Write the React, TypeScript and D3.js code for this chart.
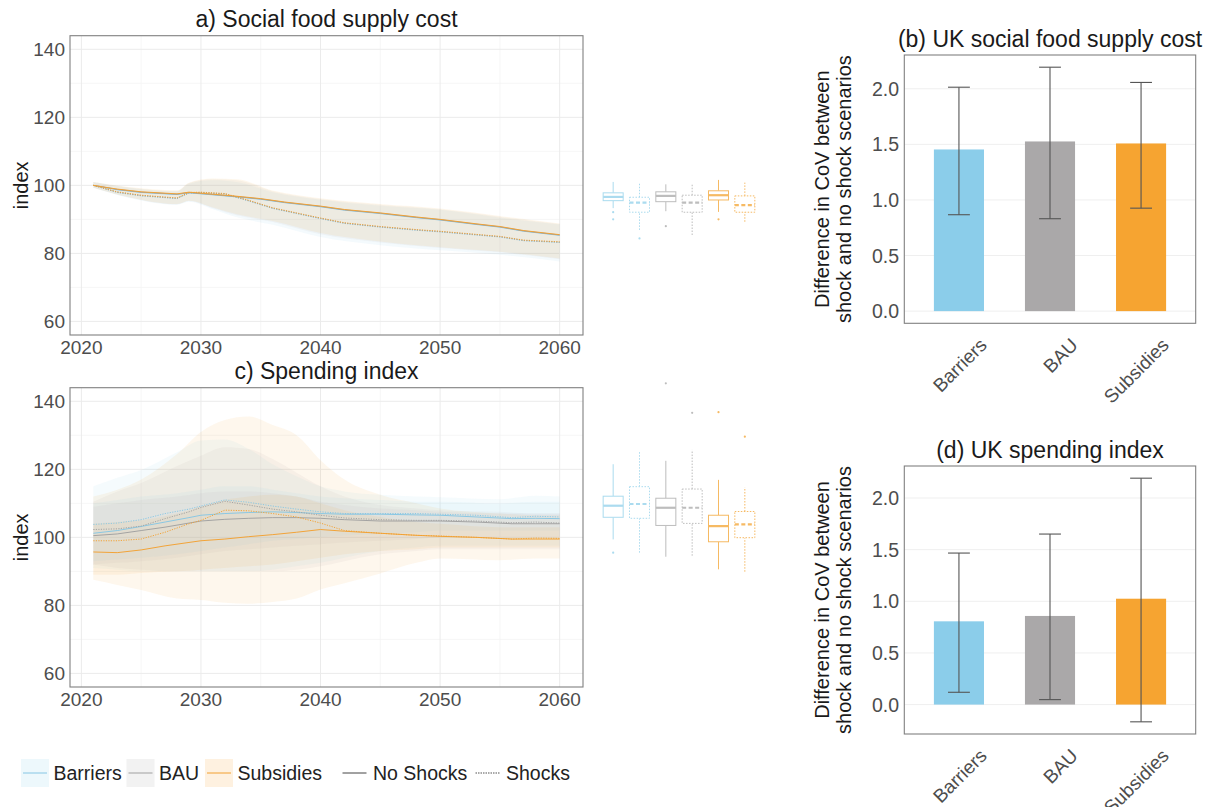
import React from "react";
import * as d3 from "d3";

const FONT = "'Liberation Sans', Arial, Helvetica, sans-serif";

// ---------- shared categories ----------
const scenarios = ["Barriers", "BAU", "Subsidies"];
const lineColors = ["#86c6e4", "#a0a0a0", "#f2a030"];
const ribbonColors = ["#89cdea", "#aaa8a9", "#f6a431"];
const barColors = ["#8bcdea", "#aaa8a9", "#f6a431"];
const boxColors = ["#8fd0ea", "#a8a8a8", "#f3a330"];

// ---------- panel a: Social food supply cost ----------
const aNoShockYears = [2021, 2023, 2025, 2028, 2029, 2031, 2033, 2035, 2037, 2040, 2042, 2045, 2048, 2050, 2053, 2055, 2057, 2060];
const aBarriersNoShock = [100, 98.7, 97.9, 97.3, 97.8, 97.2, 96.6, 95.9, 94.9, 93.7, 92.7, 91.7, 90.5, 89.8, 88.5, 87.7, 86.5, 85.3];
const aBAUNoShock = [100, 98.8, 98.0, 97.4, 97.9, 97.3, 96.7, 96.0, 95.0, 93.8, 92.8, 91.8, 90.6, 89.9, 88.6, 87.8, 86.6, 85.4];
const aSubsidiesNoShock = [100, 98.9, 98.1, 97.5, 98.0, 97.4, 96.8, 96.1, 95.1, 93.9, 92.9, 91.9, 90.7, 90.0, 88.7, 87.9, 86.7, 85.5];

const aShockYears = [2021, 2023, 2025, 2028, 2029, 2030, 2032, 2034, 2036, 2038, 2040, 2042, 2045, 2048, 2050, 2053, 2055, 2057, 2060];
const aBarriersShock = [100, 97.9, 96.9, 96.1, 97.7, 97.8, 97.4, 95.4, 93.2, 91.7, 90.2, 88.8, 87.7, 86.8, 86.3, 85.4, 84.8, 83.7, 83.2];
const aBAUShock = [100, 98.0, 97.0, 96.2, 97.8, 97.9, 97.5, 95.5, 93.3, 91.8, 90.3, 88.9, 87.8, 86.9, 86.4, 85.5, 84.9, 83.8, 83.3];
const aSubsidiesShock = [100, 98.1, 97.1, 96.3, 97.9, 98.0, 97.6, 95.6, 93.4, 91.9, 90.4, 89.0, 87.9, 87.0, 86.5, 85.6, 85.0, 83.9, 83.4];

const aRibbonYears = [2021, 2024, 2028, 2029, 2031, 2033, 2036, 2040, 2045, 2050, 2055, 2060];
const aBarriersHi = [101, 99.3, 98.2, 100.5, 101.5, 101, 98, 95.8, 94, 92.8, 90.5, 88.5];
const aBarriersLo = [99.3, 96.3, 94.3, 95.2, 93, 90.6, 88.4, 84.8, 82.4, 80.9, 79.6, 77.6];
const aBAUHi = [101, 99.4, 98.4, 100.7, 101.8, 101.5, 98.3, 96, 94.3, 93, 90.8, 88.6];
const aBAULo = [99.3, 96.4, 94.4, 95.4, 93.3, 91.2, 89.2, 85.6, 83.2, 81.6, 80.3, 78.3];
const aSubsidiesHi = [101, 99.5, 98.5, 100.8, 102, 101.8, 98.5, 96.2, 94.5, 93.2, 91, 88.8];
const aSubsidiesLo = [99.3, 96.5, 94.5, 95.5, 93.5, 91.5, 89.5, 86, 83.5, 81.8, 80.5, 78.5];

// boxplots a: [lowWhisker, q1, median, q3, highWhisker]
const aBoxBarriersNo = [93.3, 95.5, 96.6, 97.8, 101.0];
const aBoxBarriersSh = [86.9, 92.1, 94.9, 96.5, 100.9];
const aBoxBAUNo = [92.4, 95.2, 96.9, 98.1, 100.3];
const aBoxBAUSh = [85.4, 92.1, 94.9, 97.1, 100.6];
const aBoxSubsidiesNo = [92.2, 95.7, 97.1, 98.4, 101.6];
const aBoxSubsidiesSh = [89.3, 92.1, 94.2, 96.9, 100.8];
const aOutBarriersNo = [92.1, 90.0];
const aOutBarriersSh = [84.4];
const aOutBAUNo = [88.0];
const aOutBAUSh: number[] = [];
const aOutSubsidiesNo = [90.0];
const aOutSubsidiesSh: number[] = [];

// ---------- panel c: Spending index ----------
const cLineYears = [2021, 2023, 2025, 2027, 2029, 2030, 2032, 2034, 2036, 2038, 2040, 2042, 2045, 2048, 2050, 2053, 2056, 2058, 2060];
const cBarriersShock = [103.8, 104.2, 105.2, 107, 108.3, 109.2, 111, 110.3, 109.2, 108.3, 107.5, 107, 107, 107, 106.8, 106.5, 105.8, 106.2, 106];
const cBAUShock = [102.3, 102.5, 103.3, 105.5, 107.5, 108.8, 110.6, 109.5, 108.3, 107.5, 106.5, 105.7, 105.2, 105, 105, 104.8, 104.3, 104.5, 104.2];
const cBarriersNoShock = [101.2, 102, 103.2, 104.5, 105.8, 106.5, 107, 107.3, 107.5, 107.3, 107, 106.8, 106.8, 106.6, 106.5, 106, 105.5, 105.6, 105.5];
const cBAUNoShock = [100.5, 101, 102, 103, 104.2, 104.8, 105.3, 105.6, 105.8, 105.8, 105.6, 105.2, 104.8, 104.8, 104.8, 104.5, 104, 104, 104];
const cSubsidiesShock = [99, 99, 99.5, 101.5, 104, 105, 108, 107.8, 107, 106, 104.2, 102, 101.2, 100.6, 100.4, 100, 99.5, 99.8, 99.7];
const cSubsidiesNoShock = [95.7, 95.5, 96.3, 97.5, 98.5, 99, 99.5, 100.2, 100.8, 101.5, 102.3, 101.8, 101.2, 100.6, 100.3, 100, 99.5, 99.5, 99.5];

const cRibbonYears = [2021, 2023, 2025, 2028, 2030, 2032, 2034, 2036, 2038, 2040, 2042, 2045, 2048, 2050, 2055, 2058, 2060];
const cBarriersShockHi = [115, 117.5, 119.8, 125, 128.5, 128.8, 126, 121.5, 118, 115, 113.5, 112.5, 112, 111.8, 111.2, 112.2, 112];
const cBarriersShockLo = [91, 90.5, 90, 90, 90, 90, 90, 90.5, 91.5, 92.5, 94, 96, 97, 97.5, 97.5, 97.5, 97.5];
const cBAUShockHi = [110.5, 113.5, 116, 121, 124, 126.5, 126, 123, 119, 115, 112, 109.5, 108.5, 108, 107.5, 107, 107];
const cBAUShockLo = [92, 91, 90.5, 90, 90, 90, 90, 90, 90.5, 91.5, 93, 95, 96, 96.5, 96.5, 96.5, 96.5];
const cSubsidiesShockHi = [112, 114, 117, 124.5, 131, 134.5, 135.5, 133, 130, 122.7, 117, 112.5, 110, 108.5, 107, 106.5, 106.5];
const cSubsidiesShockLo = [87.5, 86, 84.5, 82, 81.6, 80.8, 80.5, 81, 82, 84.7, 86.5, 89.4, 92.5, 93.8, 93.3, 93.8, 93.8];
const cBarriersNoShockHi = [110, 111, 112, 113, 114, 115, 115, 114, 113, 112, 111.5, 111, 110.5, 110.5, 110, 110.5, 110.5];
const cBarriersNoShockLo = [93, 93.5, 94, 95, 96, 97, 98, 99, 99.5, 100, 100.5, 101, 101.5, 102, 102, 102, 102];
const cBAUNoShockHi = [109, 110, 111, 112, 113, 113.5, 113.5, 113, 112, 110.5, 109.5, 108.5, 108, 107.5, 107, 107, 107];
const cBAUNoShockLo = [92, 92.5, 93, 94, 95, 96, 96.5, 97, 97.5, 98, 98.5, 99, 99.5, 100, 100, 100, 100];
const cSubsidiesNoShockHi = [104, 104.5, 105, 107, 109, 111, 112, 112.5, 112, 110, 108, 106, 104.5, 104, 103, 103, 103];
const cSubsidiesNoShockLo = [89, 89, 89.5, 90, 90.5, 91, 91.5, 92, 93, 94, 95, 96, 96.5, 97, 97, 97, 97];

const cBoxBarriersNo = [99.4, 105.9, 109.3, 112.1, 121.5];
const cBoxBarriersSh = [95.5, 105.6, 109.8, 114.9, 125.2];
const cBoxBAUNo = [94.3, 103.5, 108.7, 111.5, 122.5];
const cBoxBAUSh = [94.6, 104.1, 108.7, 114.2, 125.7];
const cBoxSubsidiesNo = [90.6, 98.7, 103.3, 106.5, 116.9];
const cBoxSubsidiesSh = [89.9, 99.9, 103.8, 107.6, 114.7];
const cOutBarriersNo = [95.5];
const cOutBarriersSh: number[] = [];
const cOutBAUNo = [145.3];
const cOutBAUSh = [136.6];
const cOutSubsidiesNo = [136.8];
const cOutSubsidiesSh = [129.6];

// ---------- bar panels ----------
const bValues = [1.454, 1.526, 1.508];
const bLow = [0.867, 0.831, 0.926];
const bHigh = [2.014, 2.194, 2.057];
const dValues = [0.806, 0.858, 1.025];
const dLow = [0.119, 0.048, -0.167];
const dHigh = [1.467, 1.651, 2.192];

const yearTicks = [2020, 2030, 2040, 2050, 2060];
const indexTicks = [60, 80, 100, 120, 140];
const cotTicks = [0, 0.5, 1.0, 1.5, 2.0];

// ---------- helpers ----------
type Series = { years: number[]; values: number[]; scen: number; shock: boolean };
type Ribbon = { years: number[]; lo: number[]; hi: number[]; scen: number };
type Box = { stats: number[]; out: number[]; scen: number; shock: boolean };

const PLOT_L = 70, PLOT_R = 583, PLOT_H = 299.3;

function LinePanel({ top, title, ribbons, series, boxes, ribbonAlpha }: {
  top: number; title: string; ribbons: Ribbon[]; series: Series[]; boxes: Box[]; ribbonAlpha: number;
}) {
  const bottom = top + PLOT_H;
  const x = d3.scaleLinear().domain([2019.05, 2061.95]).range([PLOT_L, PLOT_R]);
  const y = d3.scaleLinear().domain([56, 144]).range([bottom, top]);
  const area = d3.area<[number, number, number]>()
    .x(d => x(d[0])).y0(d => y(d[1])).y1(d => y(d[2])).curve(d3.curveMonotoneX);
  const line = d3.line<[number, number]>().x(d => x(d[0])).y(d => y(d[1]));
  const minorX = [2025, 2035, 2045, 2055];
  const minorY = [70, 90, 110, 130];
  const bx = d3.scaleBand<number>().domain([0, 1, 2, 3, 4, 5]).range([600, 758]).paddingInner(0.24).paddingOuter(0.12);
  return (
    <g>
      <text x={(PLOT_L + PLOT_R) / 2} y={top - 9} textAnchor="middle" fontSize={23} fill="#1a1a1a">{title}</text>
      {minorY.map(v => <line key={"my" + v} x1={PLOT_L} x2={PLOT_R} y1={y(v)} y2={y(v)} stroke="#f4f4f4" strokeWidth={0.8} />)}
      {minorX.map(v => <line key={"mx" + v} x1={x(v)} x2={x(v)} y1={top} y2={bottom} stroke="#f4f4f4" strokeWidth={0.8} />)}
      {indexTicks.map(v => <line key={"gy" + v} x1={PLOT_L} x2={PLOT_R} y1={y(v)} y2={y(v)} stroke="#ebebeb" strokeWidth={1} />)}
      {yearTicks.map(v => <line key={"gx" + v} x1={x(v)} x2={x(v)} y1={top} y2={bottom} stroke="#ebebeb" strokeWidth={1} />)}
      {ribbons.map((r, i) => (
        <path key={"r" + i} d={area(r.years.map((yr, k) => [yr, r.lo[k], r.hi[k]] as [number, number, number])) || ""}
          fill={ribbonColors[r.scen]} fillOpacity={ribbonAlpha} />
      ))}
      {series.map((s, i) => (
        <path key={"l" + i} d={line(s.years.map((yr, k) => [yr, s.values[k]] as [number, number])) || ""}
          fill="none" stroke={lineColors[s.scen]} strokeWidth={1} strokeOpacity={0.95}
          strokeDasharray={s.shock ? "1.2,1.3" : undefined} />
      ))}
      <rect x={PLOT_L} y={top} width={PLOT_R - PLOT_L} height={PLOT_H} fill="none" stroke="#808080" strokeWidth={1.1} />
      {indexTicks.map(v => (
        <text key={"ty" + v} x={65} y={y(v)} dy="0.36em" textAnchor="end" fontSize={19} fill="#4d4d4d">{v}</text>
      ))}
      {yearTicks.map(v => (
        <text key={"tx" + v} x={x(v)} y={bottom + 19} textAnchor="middle" fontSize={19} fill="#4d4d4d">{v}</text>
      ))}
      <text transform={`translate(28,${(top + bottom) / 2}) rotate(-90)`} textAnchor="middle" fontSize={20} fill="#1a1a1a">index</text>
      {boxes.map((b, i) => {
        const cx = (bx(i) || 0) + bx.bandwidth() / 2;
        const w = bx.bandwidth();
        const col = boxColors[b.scen];
        const dash = b.shock ? "1.5,1.5" : undefined;
        return (
          <g key={"b" + i} opacity={0.75}>
            <line x1={cx} x2={cx} y1={y(b.stats[0])} y2={y(b.stats[1])} stroke={col} strokeWidth={1} strokeDasharray={dash} />
            <line x1={cx} x2={cx} y1={y(b.stats[3])} y2={y(b.stats[4])} stroke={col} strokeWidth={1} strokeDasharray={dash} />
            <rect x={cx - w / 2} y={y(b.stats[3])} width={w} height={y(b.stats[1]) - y(b.stats[3])} fill="white" stroke={col} strokeWidth={1} strokeDasharray={dash} />
            <line x1={cx - w / 2} x2={cx + w / 2} y1={y(b.stats[2])} y2={y(b.stats[2])} stroke={col} strokeWidth={2.2} strokeDasharray={b.shock ? "4,2.5" : undefined} />
            {b.out.map((o, k) => <circle key={k} cx={cx} cy={y(o)} r={1.1} fill={col} />)}
          </g>
        );
      })}
    </g>
  );
}

function BarPanel({ top, bottom, title, values, low, high }: {
  top: number; bottom: number; title: string; values: number[]; low: number[]; high: number[];
}) {
  const L = 904.3, R = 1195.7;
  const lo = Math.min(0, d3.min(low) || 0);
  const hi = Math.max(d3.max(high) || 0, d3.max(values) || 0);
  const pad = (hi - lo) * 0.05;
  const y = d3.scaleLinear().domain([lo - pad, hi + pad]).range([bottom, top]);
  const x = d3.scaleLinear().domain([0.4, 3.6]).range([L, R]);
  const bw = (x(1.275) - x(1)) * 2;
  const cap = (x(1.12) - x(1)) * 2;
  return (
    <g>
      <text x={(L + R) / 2} y={top - 8} textAnchor="middle" fontSize={23} fill="#1a1a1a">{title}</text>
      {cotTicks.map(v => <line key={"g" + v} x1={L} x2={R} y1={y(v)} y2={y(v)} stroke="#efefef" strokeWidth={1} />)}
      {values.map((v, i) => (
        <rect key={"bar" + i} x={x(i + 1) - bw / 2} y={y(Math.max(v, 0))} width={bw} height={Math.abs(y(0) - y(v))} fill={barColors[i]} />
      ))}
      {values.map((v, i) => (
        <g key={"e" + i} stroke="#555" strokeWidth={1.1}>
          <line x1={x(i + 1)} x2={x(i + 1)} y1={y(low[i])} y2={y(high[i])} />
          <line x1={x(i + 1) - cap / 2} x2={x(i + 1) + cap / 2} y1={y(low[i])} y2={y(low[i])} />
          <line x1={x(i + 1) - cap / 2} x2={x(i + 1) + cap / 2} y1={y(high[i])} y2={y(high[i])} />
        </g>
      ))}
      <rect x={L} y={top} width={R - L} height={bottom - top} fill="none" stroke="#808080" strokeWidth={1.1} />
      {cotTicks.map(v => (
        <text key={"t" + v} x={899} y={y(v)} dy="0.36em" textAnchor="end" fontSize={19.5} fill="#4d4d4d">{v.toFixed(1)}</text>
      ))}
      {scenarios.map((s, i) => (
        <text key={"c" + s} transform={`translate(${x(i + 1) + 29},${bottom + 23}) rotate(-45)`} textAnchor="end" fontSize={19} fill="#4d4d4d">{s}</text>
      ))}
      <text transform={`translate(829,${(top + bottom) / 2}) rotate(-90)`} textAnchor="middle" fontSize={20} fill="#1a1a1a">Difference in CoV between</text>
      <text transform={`translate(850.5,${(top + bottom) / 2}) rotate(-90)`} textAnchor="middle" fontSize={20} fill="#1a1a1a">shock and no shock scenarios</text>
    </g>
  );
}

function Legend() {
  const cy = 773;
  const keys = [
    { label: "Barriers", x0: 21, scen: 0 },
    { label: "BAU", x0: 126.5, scen: 1 },
    { label: "Subsidies", x0: 205, scen: 2 },
  ];
  return (
    <g fontSize={19.5} fill="#222">
      {keys.map(k => (
        <g key={k.label}>
          <rect x={k.x0} y={cy - 14} width={28} height={28} fill={ribbonColors[k.scen]} fillOpacity={0.15} />
          <line x1={k.x0 + 2} x2={k.x0 + 26} y1={cy} y2={cy} stroke={lineColors[k.scen]} strokeWidth={1} />
          <text x={k.x0 + 32.5} y={cy} dy="0.36em">{k.label}</text>
        </g>
      ))}
      <line x1={342.5} x2={366.5} y1={cy} y2={cy} stroke="#444" strokeWidth={1} />
      <text x={373} y={cy} dy="0.36em">No Shocks</text>
      <line x1={475.5} x2={499.5} y1={cy} y2={cy} stroke="#555" strokeWidth={1.1} strokeDasharray="1.5,1" />
      <text x={506} y={cy} dy="0.36em">Shocks</text>
    </g>
  );
}

export default function App() {
  const aRibbons: Ribbon[] = [
    { years: aRibbonYears, lo: aBarriersLo, hi: aBarriersHi, scen: 0 },
    { years: aRibbonYears, lo: aBAULo, hi: aBAUHi, scen: 1 },
    { years: aRibbonYears, lo: aSubsidiesLo, hi: aSubsidiesHi, scen: 2 },
  ];
  const aSeries: Series[] = [
    { years: aNoShockYears, values: aBarriersNoShock, scen: 0, shock: false },
    { years: aShockYears, values: aBarriersShock, scen: 0, shock: true },
    { years: aNoShockYears, values: aBAUNoShock, scen: 1, shock: false },
    { years: aShockYears, values: aBAUShock, scen: 1, shock: true },
    { years: aNoShockYears, values: aSubsidiesNoShock, scen: 2, shock: false },
    { years: aShockYears, values: aSubsidiesShock, scen: 2, shock: true },
  ];
  const aBoxes: Box[] = [
    { stats: aBoxBarriersNo, out: aOutBarriersNo, scen: 0, shock: false },
    { stats: aBoxBarriersSh, out: aOutBarriersSh, scen: 0, shock: true },
    { stats: aBoxBAUNo, out: aOutBAUNo, scen: 1, shock: false },
    { stats: aBoxBAUSh, out: aOutBAUSh, scen: 1, shock: true },
    { stats: aBoxSubsidiesNo, out: aOutSubsidiesNo, scen: 2, shock: false },
    { stats: aBoxSubsidiesSh, out: aOutSubsidiesSh, scen: 2, shock: true },
  ];
  const cRibbons: Ribbon[] = [
    { years: cRibbonYears, lo: cBarriersShockLo, hi: cBarriersShockHi, scen: 0 },
    { years: cRibbonYears, lo: cBAUShockLo, hi: cBAUShockHi, scen: 1 },
    { years: cRibbonYears, lo: cSubsidiesShockLo, hi: cSubsidiesShockHi, scen: 2 },
    { years: cRibbonYears, lo: cBarriersNoShockLo, hi: cBarriersNoShockHi, scen: 0 },
    { years: cRibbonYears, lo: cBAUNoShockLo, hi: cBAUNoShockHi, scen: 1 },
    { years: cRibbonYears, lo: cSubsidiesNoShockLo, hi: cSubsidiesNoShockHi, scen: 2 },
  ];
  const cSeries: Series[] = [
    { years: cLineYears, values: cBarriersNoShock, scen: 0, shock: false },
    { years: cLineYears, values: cBarriersShock, scen: 0, shock: true },
    { years: cLineYears, values: cBAUNoShock, scen: 1, shock: false },
    { years: cLineYears, values: cBAUShock, scen: 1, shock: true },
    { years: cLineYears, values: cSubsidiesNoShock, scen: 2, shock: false },
    { years: cLineYears, values: cSubsidiesShock, scen: 2, shock: true },
  ];
  const cBoxes: Box[] = [
    { stats: cBoxBarriersNo, out: cOutBarriersNo, scen: 0, shock: false },
    { stats: cBoxBarriersSh, out: cOutBarriersSh, scen: 0, shock: true },
    { stats: cBoxBAUNo, out: cOutBAUNo, scen: 1, shock: false },
    { stats: cBoxBAUSh, out: cOutBAUSh, scen: 1, shock: true },
    { stats: cBoxSubsidiesNo, out: cOutSubsidiesNo, scen: 2, shock: false },
    { stats: cBoxSubsidiesSh, out: cOutSubsidiesSh, scen: 2, shock: true },
  ];
  return (
    <svg width={1215} height={807} viewBox="0 0 1215 807"
      style={{ position: "absolute", left: 0, top: 0, background: "white", fontFamily: FONT }}>
      <rect x={0} y={0} width={1215} height={807} fill="white" />
      <LinePanel top={35.7} title="a) Social food supply cost" ribbons={aRibbons} series={aSeries} boxes={aBoxes} ribbonAlpha={0.09} />
      <LinePanel top={387.7} title="c) Spending index" ribbons={cRibbons} series={cSeries} boxes={cBoxes} ribbonAlpha={0.085} />
      <BarPanel top={55} bottom={323.3} title="(b) UK social food supply cost" values={bValues} low={bLow} high={bHigh} />
      <BarPanel top={466} bottom={734} title="(d) UK spending index" values={dValues} low={dLow} high={dHigh} />
      <Legend />
    </svg>
  );
}
